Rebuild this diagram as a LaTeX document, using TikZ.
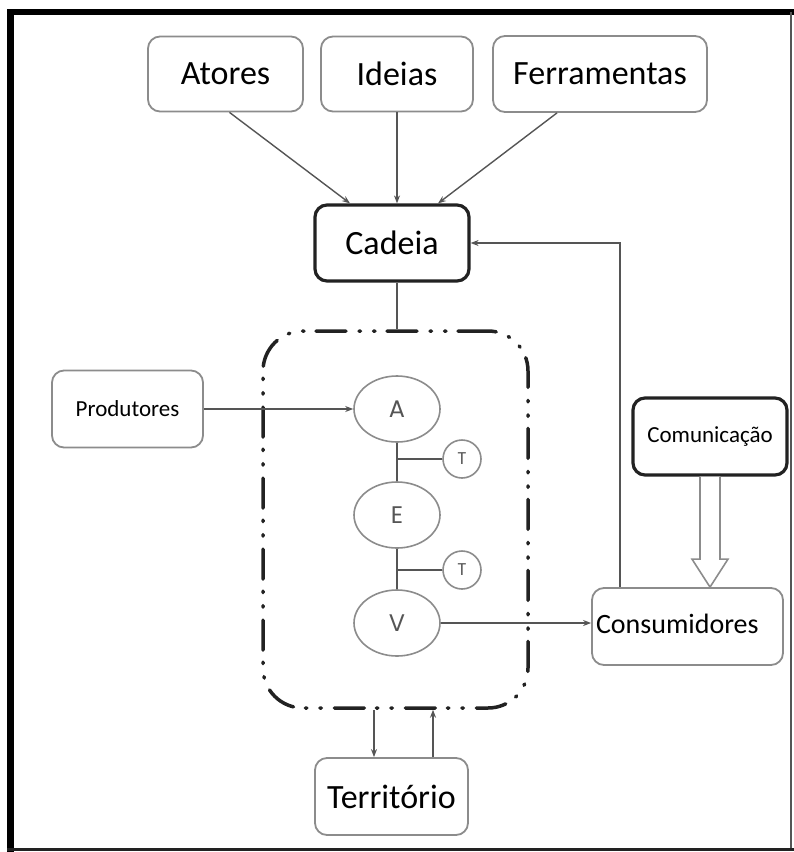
\documentclass[tikz,border=0pt]{standalone}
\usepackage{fontspec}
\setmainfont{Carlito}
\newfontfamily\geo{Poppins}
\usetikzlibrary{arrows.meta,calc,shapes.geometric}
\definecolor{boxgray}{HTML}{8C8C8C}
\definecolor{linegray}{HTML}{555555}
\definecolor{lettergray}{HTML}{555555}
\definecolor{darkline}{HTML}{222222}
\begin{document}
\begin{tikzpicture}[x=1pt,y=-1pt,
  box/.style={draw=boxgray,line width=1.8pt,rounded corners=12pt,fill=white,inner sep=0pt,align=center},
  thickbox/.style={draw=darkline,line width=3.2pt,rounded corners=12pt,fill=white,inner sep=0pt,align=center},
  big/.style={font=\fontsize{34}{40}\selectfont},
  mid/.style={font=\fontsize{28}{32}\selectfont},
  small/.style={font=\fontsize{23}{27}\selectfont},
  stage/.style={ellipse,draw=boxgray,line width=1.6pt,minimum width=86pt,minimum height=66pt,inner sep=0pt,text=lettergray,font=\geo\fontsize{24}{28}\selectfont},
  tcirc/.style={circle,draw=boxgray,line width=1.6pt,minimum size=38pt,inner sep=0pt,text=lettergray,font=\geo\fontsize{17}{20}\selectfont},
  conn/.style={draw=linegray,line width=1.4pt},
  arr/.style={conn,-{Stealth[length=8pt,width=6pt]}},
  chainbox/.style={draw=darkline,line width=3.5pt,rounded corners=40pt,line cap=round,
     dash pattern=on 30pt off 12pt on 1.5pt off 13pt on 1.5pt off 13pt,inner sep=0pt}
]
\useasboundingbox (0,0) rectangle (794,852);
\fill[white] (0,0) rectangle (794,852);
% frame
\draw[black,line width=7pt] (10,9) -- (10,852);
\draw[black,line width=6pt] (7,12) -- (794,12);
\draw[linegray,line width=2pt] (791,12) -- (791,850);
\draw[darkline,line width=3pt] (7,849) -- (794,849);

% top boxes
\node[box,big,minimum width=155pt,minimum height=75pt] (at) at (225.5,74) {Atores};
\node[box,big,minimum width=152pt,minimum height=75pt] (id) at (397,74) {Ideias};
\node[box,big,minimum width=214pt,minimum height=76pt] (fe) at (600,74) {Ferramentas};
\node[thickbox,big,minimum width=154pt,minimum height=76pt] (cad) at (392,243) {Cadeia};

% dash-dot chain box
\node[chainbox,minimum width=265pt,minimum height=377pt] (ch) at (395.5,519.5) {};

% chain stages
\node[stage] (A) at (397,409) {A};
\node[stage] (E) at (397,515) {E};
\node[stage] (V) at (397,623) {V};
\node[tcirc] (T1) at (462,459) {T};
\node[tcirc] (T2) at (462,570) {T};

% side boxes
\node[box,small,minimum width=151pt,minimum height=77pt] (pr) at (127.5,409) {Produtores};
\node[thickbox,small,minimum width=154pt,minimum height=77pt] (com) at (710,436.5) {Comunicação};
\node[box,mid,minimum width=191pt,minimum height=77pt,text width=183pt,align=left,inner xsep=4pt] (cons) at (687.5,626.5) {\raisebox{5pt}{Consumidores}};
\node[box,big,minimum width=153pt,minimum height=77pt] (ter) at (391.5,796.5) {\raisebox{-3pt}{Território}};

% arrows into Cadeia
\draw[arr] ([xshift=4pt]at.south) -- ([xshift=-42pt]cad.north);
\draw[arr] (id.south) -- (id.south |- cad.north);
\draw[arr] ([xshift=-43pt]fe.south) -- ([xshift=46pt]cad.north);

% Cadeia to chain box
\draw[conn] (cad.south -| A) -- (A |- ch.north);

% chain internal
\draw[conn] (A.south) -- (E.north);
\draw[conn] (E.south) -- (V.north);
\draw[conn] (T1.west) -- (T1 -| A);
\draw[conn] (T2.west) -- (T2 -| A);

% Produtores -> A
\draw[arr] (pr.east) -- (A.west);
% V -> Consumidores
\draw[arr] (V.east) -- (V -| cons.west);
% Consumidores -> Cadeia
\draw[arr] ([xshift=-67.5pt]cons.north) |- (cad.east);

% hollow arrow Comunicacao -> Consumidores
\coordinate (tip) at (com.south |- cons.north);
\draw[draw=boxgray,line width=1.6pt,fill=white,line join=miter]
  ($(com.south)+(-10,0)$) -- ($(tip)+(-10,-28)$) -- ($(tip)+(-18,-28)$) -- (tip)
  -- ($(tip)+(18,-28)$) -- ($(tip)+(10,-28)$) -- ($(com.south)+(10,0)$);

% chain box <-> Territorio
\draw[arr] ([xshift=-17.5pt]ter.north |- ch.south) -- ([xshift=-17.5pt]ter.north);
\draw[arr] ([xshift=41.5pt]ter.north) -- ([xshift=41.5pt]ter.north |- ch.south);
\end{tikzpicture}
\end{document}
